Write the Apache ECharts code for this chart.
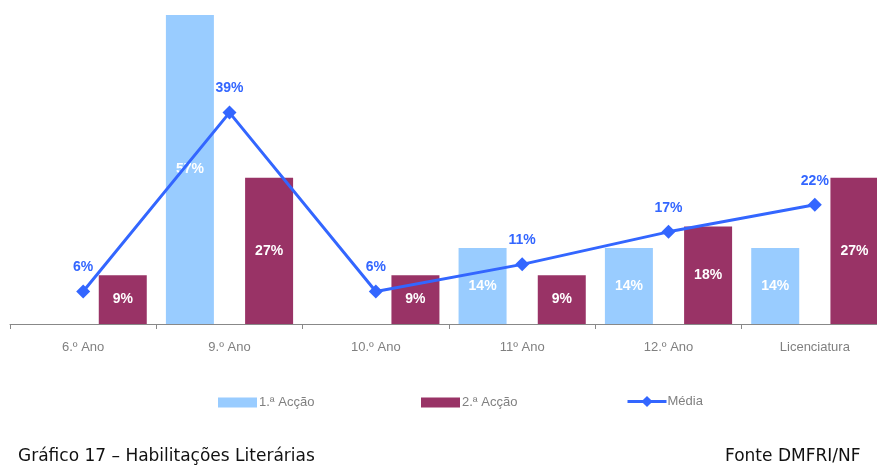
<!DOCTYPE html>
<html>
<head>
<meta charset="utf-8">
<script src="https://cdn.jsdelivr.net/npm/echarts@6/dist/echarts.min.js"></script>
<style>
  html, body { margin: 0; padding: 0; background: #fff; overflow: hidden; }
  #chart { width: 890px; height: 465px; }
</style>
</head>
<body>
<div id="chart"></div>
<script>
// categorias e valores (%)
const categories = ['6.º Ano', '9.º Ano', '10.º Ano', '11º Ano', '12.º Ano', 'Licenciatura']
const accao1 = [null, 57, null, 14, 14, 14]
const accao2 = [9, 27, 9, 9, 18, 27]
const media = [6, 39, 6, 11, 17, 22]

const chart = echarts.init(document.getElementById('chart'))

const pct = p => p.value + '%'
const legendText = { color: '#808080', fontSize: 13, fontFamily: 'Liberation Sans' }

const option = {
  animation: false,
  backgroundColor: '#fff',
  // o eixo continua para lá da margem direita, como no original
  grid: { left: 10, top: 15, width: 878, bottom: 141, containLabel: false },
  legend: [
    {
      left: 218, top: 396, padding: 0, itemWidth: 39, itemHeight: 10,
      textStyle: Object.assign({ padding: [0, 0, 0, -3] }, legendText),
      data: [{ name: '1.ª Acção', icon: 'rect' }]
    },
    {
      left: 421, top: 396, padding: 0, itemWidth: 39, itemHeight: 10,
      textStyle: Object.assign({ padding: [0, 0, 0, -3] }, legendText),
      data: [{ name: '2.ª Acção', icon: 'rect' }]
    },
    {
      left: 626, top: 395, padding: 0, itemWidth: 39, itemHeight: 14,
      lineStyle: { width: 3, inactiveWidth: 3 },
      textStyle: Object.assign({ padding: [0, 0, 0, -4] }, legendText),
      data: ['Média']
    }
  ],
  title: [
    {
      text: 'Gráfico 17 – Habilitações Literárias',
      left: 13, top: 443,
      textStyle: { fontSize: 17, fontWeight: 'normal', color: '#111', fontFamily: 'DejaVu Sans' }
    },
    {
      text: 'Fonte DMFRI/NF',
      left: 720, top: 443,
      textStyle: { fontSize: 17, fontWeight: 'normal', color: '#111', fontFamily: 'DejaVu Sans' }
    }
  ],
  xAxis: {
    type: 'category',
    data: categories,
    axisLine: { lineStyle: { color: '#888', width: 1 } },
    axisTick: { show: true, length: 5, lineStyle: { color: '#888' } },
    axisLabel: { color: '#808080', fontSize: 13, fontFamily: 'Liberation Sans', margin: 17 }
  },
  yAxis: {
    type: 'value',
    min: 0,
    max: 57,
    show: false,
    splitLine: { show: false }
  },
  series: [
    {
      name: '1.ª Acção',
      type: 'bar',
      data: accao1,
      barWidth: 48,
      barGap: '65%',
      itemStyle: { color: '#99CCFF' },
      label: {
        show: true, position: 'inside', formatter: pct,
        color: '#fff', fontSize: 14, fontWeight: 'bold', fontFamily: 'Liberation Sans'
      }
    },
    {
      name: '2.ª Acção',
      type: 'bar',
      data: accao2,
      barWidth: 48,
      itemStyle: { color: '#993366' },
      label: {
        show: true, position: 'inside', formatter: pct,
        color: '#fff', fontSize: 14, fontWeight: 'bold', fontFamily: 'Liberation Sans'
      }
    },
    {
      name: 'Média',
      type: 'line',
      data: media,
      symbol: 'diamond',
      symbolSize: 14,
      lineStyle: { color: '#3366FF', width: 3 },
      itemStyle: { color: '#3366FF' },
      label: {
        show: true, position: 'top', distance: 10, formatter: pct,
        color: '#3366FF', fontSize: 14, fontWeight: 'bold', fontFamily: 'Liberation Sans'
      },
      z: 5
    }
  ]
}

chart.setOption(option)
</script>
</body>
</html>
